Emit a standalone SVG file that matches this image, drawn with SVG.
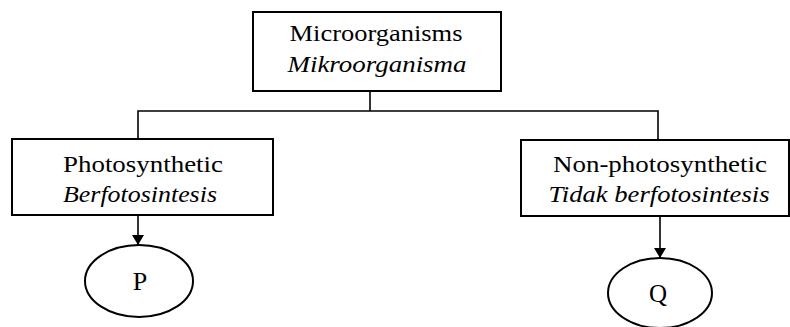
<svg xmlns="http://www.w3.org/2000/svg" width="790" height="327" viewBox="0 0 790 327">
<style>
.box{fill:#fff;stroke:#000;stroke-width:2}
.t{font-family:'Liberation Serif',Times,serif;font-size:23px;fill:#000;text-anchor:middle}
.i{font-style:italic}
.c{fill:none;stroke:#000;stroke-width:1.6}
</style>
<defs>
<marker id="ah" viewBox="0 0 10 12" refX="10" refY="6" markerWidth="10" markerHeight="12" markerUnits="userSpaceOnUse" orient="auto">
<path d="M0,0 L10,6 L0,12 Z" fill="#000"/>
</marker>
</defs>
<rect width="790" height="327" fill="#fff"/>
<g id="connectors">
<path class="c" d="M370,91 V111"/>
<path class="c" d="M138,139 V111 H658 V140"/>
<path class="c" d="M138,215 V245" marker-end="url(#ah)"/>
<path class="c" d="M660,216 V258" marker-end="url(#ah)"/>
</g>
<g id="root">
<rect class="box" x="253" y="12" width="248" height="79"/>
<text class="t" x="376" y="41" textLength="173" lengthAdjust="spacingAndGlyphs">Microorganisms</text>
<text class="t i" x="377" y="72" textLength="179" lengthAdjust="spacingAndGlyphs">Mikroorganisma</text>
</g>
<g id="photosynthetic">
<rect class="box" x="12" y="139" width="261" height="76"/>
<text class="t" x="143" y="172" textLength="160" lengthAdjust="spacingAndGlyphs">Photosynthetic</text>
<text class="t i" x="140" y="202" textLength="154" lengthAdjust="spacingAndGlyphs">Berfotosintesis</text>
</g>
<g id="nonphotosynthetic">
<rect class="box" x="521" y="140" width="268" height="76"/>
<text class="t" x="660" y="172" textLength="214" lengthAdjust="spacingAndGlyphs">Non-photosynthetic</text>
<text class="t i" x="659" y="202" textLength="221" lengthAdjust="spacingAndGlyphs">Tidak berfotosintesis</text>
</g>
<g id="P">
<ellipse class="box" cx="139" cy="281" rx="54" ry="36"/>
<text class="t" x="140" y="290" style="font-size:26px">P</text>
</g>
<g id="Q">
<ellipse class="box" cx="660" cy="293" rx="52" ry="35"/>
<text class="t" x="658" y="302" style="font-size:25px">Q</text>
</g>
</svg>
